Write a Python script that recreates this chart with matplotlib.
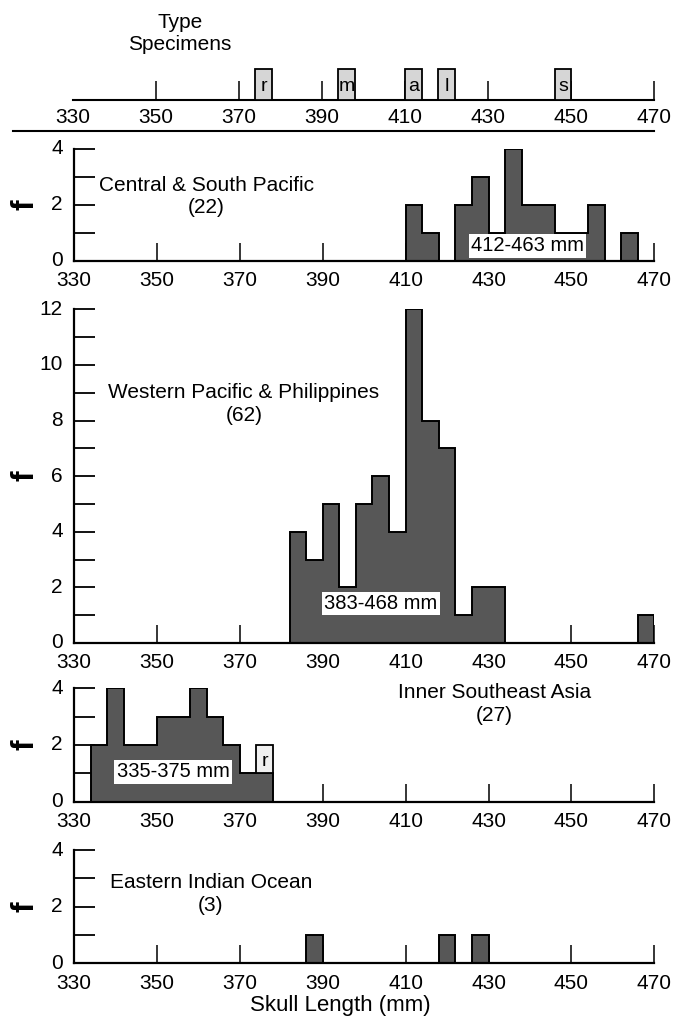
import numpy as np
import matplotlib
matplotlib.use('Agg')
import matplotlib.pyplot as plt
from matplotlib.ticker import MultipleLocator
from matplotlib.transforms import ScaledTranslation

plt.rcParams['font.family'] = ['Liberation Sans', 'DejaVu Sans']

# ---------------- data ----------------
BIN_WIDTH = 4
x_ticks = [330, 350, 370, 390, 410, 430, 450, 470]

type_letters = ['r', 'm', 'a', 'l', 's']
type_bins = [374, 394, 410, 418, 446]

central_bins = [410, 414, 422, 426, 430, 434, 438, 442, 446, 450, 454, 462]
central_counts = [2, 1, 2, 3, 1, 4, 2, 2, 1, 1, 2, 1]

western_bins = [382, 386, 390, 394, 398, 402, 406, 410, 414, 418, 422, 426, 430, 466]
western_counts = [4, 3, 5, 2, 5, 6, 4, 12, 8, 7, 1, 2, 2, 1]

inner_bins = [334, 338, 342, 346, 350, 354, 358, 362, 366, 370, 374]
inner_counts = [2, 4, 2, 2, 3, 3, 4, 3, 2, 1, 1]

eastern_bins = [386, 418, 426]
eastern_counts = [1, 1, 1]

region_names = ['Central & South Pacific', 'Western Pacific & Philippines',
                'Inner Southeast Asia', 'Eastern Indian Ocean']
region_n = [22, 62, 27, 3]
region_ranges = ['412-463 mm', '383-468 mm', '335-375 mm', None]
y_max = [4, 12, 4, 4]

# --------------- layout ---------------
W, H = 676, 1026
fig = plt.figure(figsize=(W / 100, H / 100), dpi=100)

def px_axes(x0, y_top, x1, y_bottom):
    return fig.add_axes([x0 / W, 1 - y_bottom / H, (x1 - x0) / W, (y_bottom - y_top) / H])

X0, X1 = 74, 654.3
BAR_FC = '#575757'
TICK_FS = 15
PX = 0.72  # points per pixel

# ---- type specimen strip ----
ax_t = px_axes(72.5, 69, X1, 100)
ax_t.set_xlim(330, 470)
ax_t.set_ylim(0, 1)
for s in ['top', 'left', 'right']:
    ax_t.spines[s].set_visible(False)
ax_t.spines['bottom'].set_linewidth(1.5)
ax_t.set_yticks([])
ax_t.set_xticks(x_ticks)
ax_t.tick_params(axis='x', direction='in', length=19 * PX, width=1.1,
                 labelsize=TICK_FS, pad=6)
ax_t.xaxis.get_major_ticks()[0].tick1line.set_visible(False)
ax_t.set_axisbelow(True)
ax_t.bar(type_bins, [1] * len(type_bins), width=BIN_WIDTH, align='edge',
         facecolor='#d6d6d6', edgecolor='black', linewidth=1.3, clip_on=False, zorder=3)
for b, letter in zip(type_bins, type_letters):
    ax_t.text(b + BIN_WIDTH / 2, 0.42, letter, ha='center', va='center',
              fontsize=14, zorder=4)

fig.text(180 / W, 1 - 33.5 / H, 'Type\nSpecimens', ha='center', va='center',
         fontsize=15, linespacing=1.15)
fig.add_artist(plt.Line2D([13 / W, 654 / W], [1 - 131 / H, 1 - 131 / H],
                          color='black', linewidth=1.5))

# ---- histogram panels ----
panel_px = [(149, 260.7), (309.3, 643), (688.3, 801.7), (850, 963.3)]
all_bins = [central_bins, western_bins, inner_bins, eastern_bins]
all_counts = [central_counts, western_counts, inner_counts, eastern_counts]
label_pos = [(362, 2.3), (371, 8.6), (431.5, 3.45), (363, 2.45)]
range_pos = [(439.4, 0.53), (404, 1.42), (353.9, 1.05), None]

edges = np.arange(330, 470 + BIN_WIDTH, BIN_WIDTH)
lift = ScaledTranslation(0, 2 / 100, fig.dpi_scale_trans)

axes = []
for i, (ytop, ybot) in enumerate(panel_px):
    ax = px_axes(X0, ytop, X1, ybot)
    axes.append(ax)
    ax.set_xlim(330, 470)
    ax.set_ylim(0, y_max[i])
    ax.spines['top'].set_visible(False)
    ax.spines['right'].set_visible(False)
    for s in ['left', 'bottom']:
        ax.spines[s].set_linewidth(1.6)
        ax.spines[s].set_zorder(5)
    ax.set_axisbelow(True)

    centers = np.array(all_bins[i]) + BIN_WIDTH / 2
    ax.hist(centers, bins=edges, weights=all_counts[i], histtype='stepfilled',
            facecolor=BAR_FC, edgecolor='black', linewidth=1.4, zorder=2)

    ax.set_xticks(x_ticks)
    ax.xaxis.get_major_ticks()[0].tick1line.set_visible(False)
    ax.tick_params(axis='x', direction='in', length=18 * PX, width=1.1,
                   labelsize=TICK_FS, pad=7.5)
    ax.yaxis.set_major_locator(MultipleLocator(2))
    ax.yaxis.set_minor_locator(MultipleLocator(1))
    ax.tick_params(axis='y', which='both', direction='in', length=21 * PX,
                   width=1.3, labelsize=TICK_FS, pad=8)
    for lab in ax.get_yticklabels():
        lab.set_transform(lab.get_transform() + lift)

    name = region_names[i] + '\n(' + str(region_n[i]) + ')'
    lx, ly = label_pos[i]
    ax.text(lx, ly, name, ha='center', va='center', fontsize=15,
            linespacing=1.25, zorder=6)

    if region_ranges[i] is not None:
        rx, ry = range_pos[i]
        ax.text(rx, ry, region_ranges[i], ha='center', va='center', fontsize=14.5,
                zorder=6, bbox=dict(boxstyle='square,pad=0.12', facecolor='white',
                                    edgecolor='none'))

    yc = 1 - (ytop + ybot) / 2 / H
    fig.text(25 / W, yc, 'f', rotation=90, ha='center', va='center',
             fontsize=23, fontweight='bold')

# type specimen 'r' stacked on Inner Southeast Asia panel
axes[2].bar([type_bins[0]], [1], bottom=[1], width=BIN_WIDTH, align='edge',
            facecolor='#f0f0f0', edgecolor='black', linewidth=1.3, zorder=3)
axes[2].text(type_bins[0] + BIN_WIDTH / 2, 1.42, type_letters[0], ha='center',
             va='center', fontsize=14, zorder=4)

fig.text(340 / W, 1 - 1006 / H, 'Skull Length (mm)', ha='center', va='center',
         fontsize=16)

fig.savefig('out.png', dpi=100)
